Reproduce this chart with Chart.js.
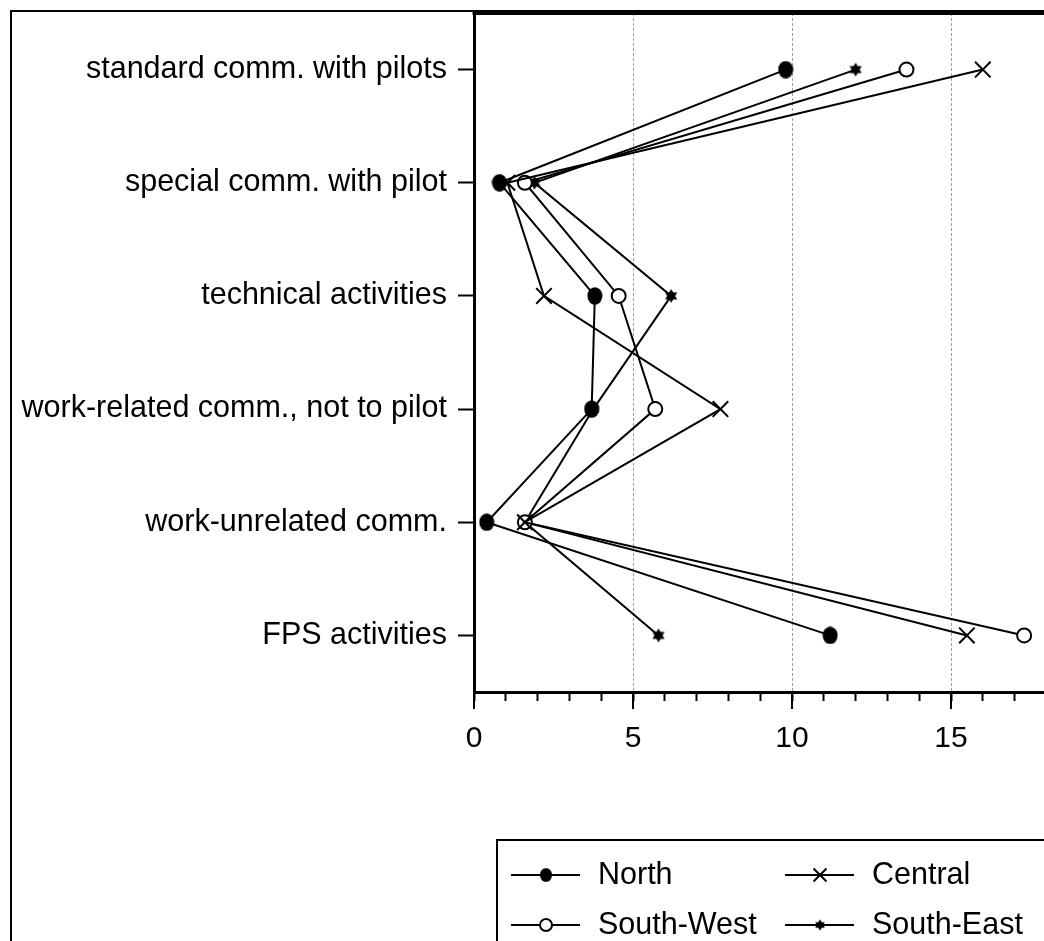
<!DOCTYPE html>
<html>
<head>
<meta charset="utf-8">
<script src="https://cdn.jsdelivr.net/npm/chart.js@4.4.0/dist/chart.umd.min.js"></script>
<style>
  html, body { margin: 0; padding: 0; background: #fff; overflow: hidden; }
  #wrap { position: relative; width: 1044px; height: 941px; overflow: hidden; }
  canvas { position: absolute; left: 0; top: 0; }
</style>
</head>
<body>
<div id="wrap"><canvas id="activityChart" width="1130" height="941"></canvas></div>
<script>
// values
const activities = [
  'standard comm. with pilots',
  'special comm. with pilot',
  'technical activities',
  'work-related comm., not to pilot',
  'work-unrelated comm.',
  'FPS activities'
];
const north = [9.8, 0.8, 3.8, 3.7, 0.4, 11.2];
const central = [16.0, 1.05, 2.2, 7.75, 1.6, 15.5];
const southWest = [13.6, 1.6, 4.55, 5.7, 1.6, 17.3];
const southEast = [12.0, 1.9, 6.2, 3.75, 1.6, 5.8];
const xTicks = [0, 5, 10, 15];
const xMax = 20;

const FONT = "'Liberation Sans', Arial, sans-serif";

function makeMarker(w, h, draw) {
  const c = document.createElement('canvas');
  c.width = w;
  c.height = h;
  draw(c.getContext('2d'), w, h);
  return c;
}

const dotMarker = makeMarker(16, 18, (g, w, h) => {
  g.fillStyle = '#000';
  g.beginPath();
  g.ellipse(w / 2, h / 2, 7.5, 8.7, 0, 0, Math.PI * 2);
  g.fill();
});

const starMarker = makeMarker(16, 16, (g, w, h) => {
  const r = 7;
  g.fillStyle = '#000';
  [-90, 90].forEach((start) => {
    g.beginPath();
    for (let k = 0; k < 3; k++) {
      const a = (start + k * 120) * Math.PI / 180;
      const px = w / 2 + r * Math.cos(a);
      const py = h / 2 + r * Math.sin(a);
      if (k === 0) g.moveTo(px, py); else g.lineTo(px, py);
    }
    g.closePath();
    g.fill();
  });
});

function drawLegendMarker(ctx, ds, cx, cy) {
  const style = ds.pointStyle;
  if (style instanceof HTMLCanvasElement) {
    const s = 0.8;
    ctx.drawImage(style, cx - style.width * s / 2, cy - style.height * s / 2, style.width * s, style.height * s);
  } else if (style === 'circle') {
    ctx.beginPath();
    ctx.arc(cx, cy, 6, 0, Math.PI * 2);
    ctx.fillStyle = ds.pointBackgroundColor;
    ctx.fill();
    ctx.lineWidth = 2;
    ctx.strokeStyle = '#000';
    ctx.stroke();
  } else if (style === 'crossRot') {
    const d = 6.5;
    ctx.lineWidth = 2;
    ctx.strokeStyle = '#000';
    ctx.beginPath();
    ctx.moveTo(cx - d, cy - d); ctx.lineTo(cx + d, cy + d);
    ctx.moveTo(cx + d, cy - d); ctx.lineTo(cx - d, cy + d);
    ctx.stroke();
  }
}

// outer frame, top border, long ticks at 0/5/10/15 and the boxed legend
const framePlugin = {
  id: 'frame',
  afterDraw(chart) {
    const { ctx, chartArea } = chart;
    const x = chart.scales.x;
    const line = (x1, y1, x2, y2) => { ctx.beginPath(); ctx.moveTo(x1, y1); ctx.lineTo(x2, y2); ctx.stroke(); };
    ctx.save();
    ctx.strokeStyle = '#000';

    ctx.lineWidth = 2;
    ctx.strokeRect(11, 11, chart.width + 100, chart.height + 100);

    ctx.lineWidth = 4;
    line(chartArea.left - 1.5, chartArea.top, chartArea.right + 50, chartArea.top);

    ctx.lineWidth = 2;
    x.ticks.forEach((t) => {
      if (xTicks.includes(t.value)) {
        const px = x.getPixelForValue(t.value);
        line(px, chartArea.bottom, px, chartArea.bottom + 17);
      }
    });

    // legend
    ctx.lineWidth = 2;
    ctx.strokeRect(497, 840, 1000, 1000);
    const cols = [511, 785];
    const rows = [875, 925];
    ctx.font = `30.5px ${FONT}`;
    ctx.textBaseline = 'middle';
    ctx.textAlign = 'left';
    chart.data.datasets.forEach((ds, i) => {
      const lx = cols[i % 2];
      const ly = rows[Math.floor(i / 2)];
      ctx.strokeStyle = '#000';
      ctx.lineWidth = 2;
      line(lx, ly, lx + 69, ly);
      drawLegendMarker(ctx, ds, lx + 35, ly);
      ctx.fillStyle = '#000';
      ctx.fillText(ds.label, lx + 87, ly + 1);
    });
    ctx.restore();
  }
};

new Chart(document.getElementById('activityChart'), {
  type: 'line',
  data: {
    labels: activities,
    datasets: [
      {
        label: 'North',
        data: north,
        borderColor: '#000',
        borderWidth: 2,
        pointStyle: dotMarker,
        pointRadius: 8,
        pointBackgroundColor: '#000',
        pointBorderColor: '#000'
      },
      {
        label: 'Central',
        data: central,
        borderColor: '#000',
        borderWidth: 2,
        pointStyle: 'crossRot',
        pointRadius: 11,
        pointBorderWidth: 2,
        pointBorderColor: '#000'
      },
      {
        label: 'South-West',
        data: southWest,
        borderColor: '#000',
        borderWidth: 2,
        pointStyle: 'circle',
        pointRadius: 7,
        pointBorderWidth: 2,
        pointBackgroundColor: '#fff',
        pointBorderColor: '#000'
      },
      {
        label: 'South-East',
        data: southEast,
        borderColor: '#000',
        borderWidth: 2,
        pointStyle: starMarker,
        pointRadius: 7,
        pointBackgroundColor: '#000',
        pointBorderColor: '#000'
      }
    ]
  },
  options: {
    indexAxis: 'y',
    responsive: false,
    animation: false,
    events: [],
    layout: { padding: { left: 0, top: 12, right: 15, bottom: 0 } },
    plugins: { legend: { display: false }, tooltip: { enabled: false } },
    elements: { line: { tension: 0, fill: false } },
    scales: {
      y: {
        type: 'category',
        offset: true,
        grid: { offset: false, drawOnChartArea: false, tickLength: 16, tickWidth: 2, tickColor: '#000' },
        border: { color: '#000', width: 3 },
        ticks: { color: '#000', font: { family: FONT, size: 30.5 }, padding: 11, autoSkip: false },
        afterFit(scale) {
          scale.width = 474;
          scale.paddingTop = 0;
          scale.paddingBottom = 0;
        }
      },
      x: {
        type: 'linear',
        min: 0,
        max: xMax,
        grid: {
          color: (c) => (c.tick && c.tick.value !== 0 && xTicks.includes(c.tick.value)) ? '#a0a0a0' : 'rgba(0,0,0,0)',
          lineWidth: 1,
          tickLength: 9,
          tickWidth: 2,
          tickColor: '#000'
        },
        border: { color: '#000', width: 3, dash: [3, 2] },
        ticks: {
          stepSize: 1,
          autoSkip: false,
          maxRotation: 0,
          color: '#000',
          font: { family: FONT, size: 30 },
          padding: 20,
          callback(value) {
            return xTicks.includes(value) ? String(value) : '';
          }
        },
        afterFit(scale) { scale.height = 249; }
      }
    }
  },
  plugins: [framePlugin]
});
</script>
</body>
</html>
